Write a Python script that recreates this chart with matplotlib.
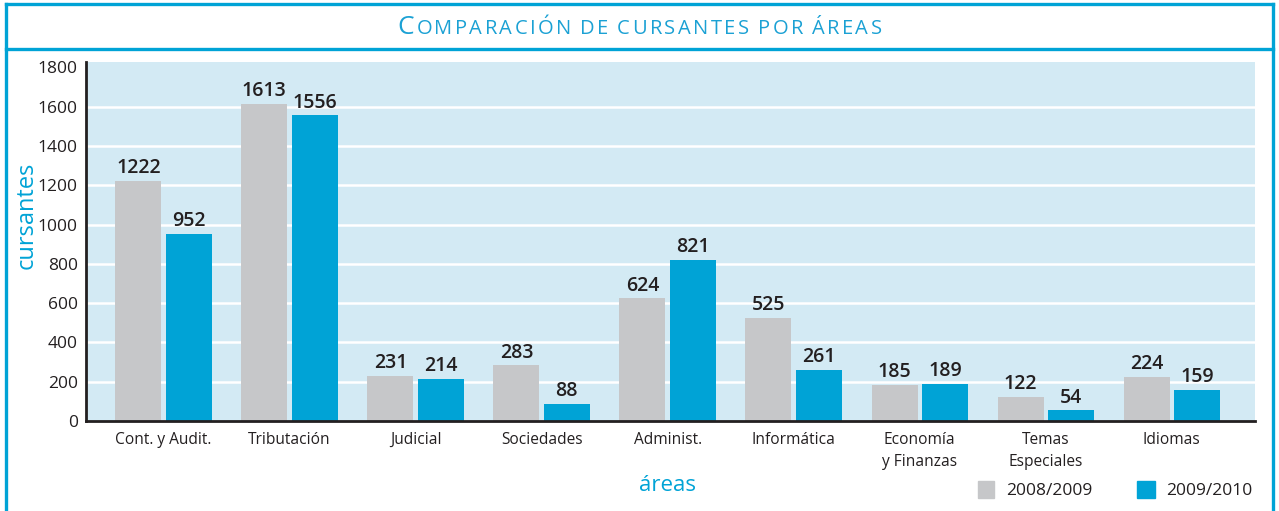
import matplotlib
matplotlib.use("Agg")
import matplotlib.pyplot as plt
import numpy as np
from matplotlib.offsetbox import TextArea, HPacker, AnnotationBbox
from matplotlib.patches import Rectangle
from matplotlib.lines import Line2D

categories = ["Cont. y Audit.", "Tributación", "Judicial", "Sociedades", "Administ.",
              "Informática", "Economía\ny Finanzas", "Temas\nEspeciales", "Idiomas"]
series_names = ["2008/2009", "2009/2010"]
values_0809 = [1222, 1613, 231, 283, 624, 525, 185, 122, 224]
values_0910 = [952, 1556, 214, 88, 821, 261, 189, 54, 159]
yticks = [0, 200, 400, 600, 800, 1000, 1200, 1400, 1600, 1800]

GRAY = "#c6c7c9"
BLUE = "#00a3d6"
BG = "#d3eaf4"
TXT = "#231f20"
FONT = ["Open Sans", "DejaVu Sans"]

plt.rcParams["font.family"] = FONT

W, H = 1279, 511
fig = plt.figure(figsize=(W / 100, H / 100), dpi=100)
fig.patch.set_facecolor("white")

def fx(px):
    return px / W
def fy(py):
    return 1 - py / H

# frame lines
lw = 2.4
fig.add_artist(Line2D([fx(6), fx(1273)], [fy(4), fy(4)], color=BLUE, lw=lw))
fig.add_artist(Line2D([fx(6), fx(1273)], [fy(49), fy(49)], color=BLUE, lw=lw))
fig.add_artist(Line2D([fx(6), fx(6)], [fy(4), 0], color=BLUE, lw=lw))
fig.add_artist(Line2D([fx(1273), fx(1273)], [fy(4), 0], color=BLUE, lw=lw))

# small-caps, letter-spaced title
title_color = "#1ba1d4"
title_text = "Comparación de cursantes por áreas"
boxes = []
for i, ch in enumerate(title_text):
    if ch == " ":
        boxes.append(TextArea(" ", textprops=dict(fontsize=11, family=FONT)))
        continue
    size = 19 if ch.isupper() else 14.5
    boxes.append(TextArea(ch.upper(), textprops=dict(color=title_color, fontsize=size,
                                                     family=FONT)))
pack = HPacker(children=boxes, align="baseline", pad=0, sep=1.75)
ab = AnnotationBbox(pack, (0.5, fy(27)), xycoords="figure fraction",
                    frameon=False, box_alignment=(0.5, 0.5))
fig.add_artist(ab)

ax = fig.add_axes([fx(86), fy(421), fx(1255) - fx(86), fy(62) - fy(421)])
ax.set_facecolor(BG)
x = np.arange(len(categories))
bw = 0.365
off = 0.2
ax.bar(x - off, values_0809, width=bw, color=GRAY, zorder=3, label=series_names[0])
ax.bar(x + off, values_0910, width=bw, color=BLUE, zorder=3, label=series_names[1])

for xi, v in zip(x, values_0809):
    ax.text(xi - off, v + 14, str(v), ha="center", va="bottom", fontsize=14,
            fontweight="semibold", color=TXT, zorder=4)
for xi, v in zip(x, values_0910):
    ax.text(xi + off, v + 14, str(v), ha="center", va="bottom", fontsize=14,
            fontweight="semibold", color=TXT, zorder=4)

ax.set_xlim(-0.615, 8.66)
ax.set_ylim(0, 1828)
ax.set_yticks(yticks)
ax.set_yticklabels([str(t) for t in yticks], fontsize=12.5, color=TXT)
for t in yticks[1:-1]:
    ax.axhline(t, color="white", lw=1.8, zorder=1)
ax.set_xticks(x)
ax.set_xticklabels(categories, fontsize=11.2, color=TXT, linespacing=1.5)
ax.tick_params(axis="both", length=0, pad=6)
ax.tick_params(axis="x", pad=8)
for s in ["top", "right"]:
    ax.spines[s].set_visible(False)
for s in ["left", "bottom"]:
    ax.spines[s].set_color(TXT)
    ax.spines[s].set_linewidth(2)
    ax.spines[s].set_zorder(5)

fig.text(fx(27), fy(215), "cursantes", rotation=90, ha="center", va="center",
         fontsize=17, color=BLUE)
fig.text(fx(668), fy(485), "áreas", ha="center", va="center", fontsize=16, color=BLUE)

# legend
fig.add_artist(Rectangle((fx(978), fy(498)), fx(16), fy(481) - fy(498), color=GRAY,
                         transform=fig.transFigure))
fig.text(fx(1006), fy(491), series_names[0], ha="left", va="center", fontsize=12.5, color=TXT)
fig.add_artist(Rectangle((fx(1137), fy(498)), fx(18), fy(481) - fy(498), color=BLUE,
                         transform=fig.transFigure))
fig.text(fx(1166), fy(491), series_names[1], ha="left", va="center", fontsize=12.5, color=TXT)

fig.savefig("out.png", dpi=100)
